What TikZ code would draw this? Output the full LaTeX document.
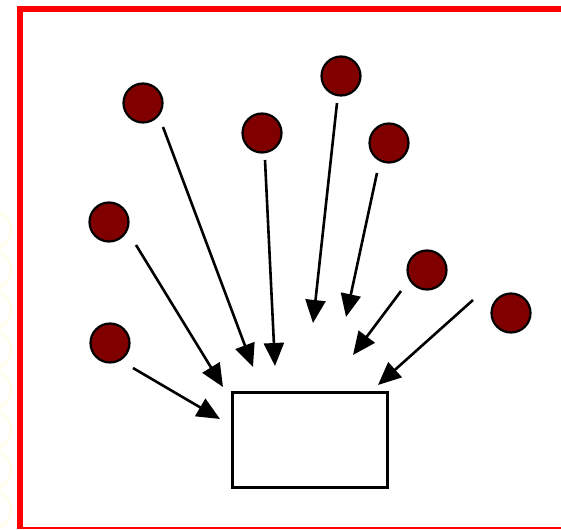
\documentclass[tikz,border=0pt]{standalone}
\usetikzlibrary{arrows.meta}
\definecolor{ball}{RGB}{128,0,0}
\definecolor{frame}{RGB}{255,0,0}
\definecolor{paleyellow}{RGB}{255,254,236}
\tikzset{
  ball/.style={circle, draw=black, line width=2.2pt, fill=ball, minimum size=39pt, inner sep=0pt},
  target/.style={draw=black, line width=2.4pt, fill=white, minimum width=155pt, minimum height=95pt, inner sep=0pt},
  push/.style={draw=black, line width=2.6pt, -{Triangle[length=23pt,width=20pt]}},
}
\begin{document}
\begin{tikzpicture}[x=1pt,y=-1pt]
  \useasboundingbox (0,0) rectangle (561,529);
  % faint ring pattern at the left edge
  \foreach \yy in {230,270,310,350,390,430,470,510}
    \draw[paleyellow, line width=3pt] (-8,\yy) circle (19);
  % red frame (left, top and bottom edges)
  \fill[frame] (17,6) rectangle (561,12);
  \fill[frame] (17,6) rectangle (23,529);
  \fill[frame] (17,527) rectangle (561,529);

  % the box the arrows aim at
  \node[target] (box) at (310,440) {};

  % balls
  \node[ball] (c1) at (143,103) {};
  \node[ball] (c2) at (262,133) {};
  \node[ball] (c3) at (341,76) {};
  \node[ball] (c4) at (389,143) {};
  \node[ball] (c5) at (109,222) {};
  \node[ball] (c6) at (427,270) {};
  \node[ball] (c7) at (511,313) {};
  \node[ball] (c8) at (110,343) {};

  % arrow starts and tips
  \coordinate (s1) at (163,127); \coordinate (t1) at (253,367);
  \coordinate (s2) at (265,160); \coordinate (t2) at (275,366);
  \coordinate (s3) at (337,103); \coordinate (t3) at (313,323);
  \coordinate (s4) at (377,173); \coordinate (t4) at (346,317);
  \coordinate (s5) at (136,245); \coordinate (t5) at (223,387);
  \coordinate (s6) at (401,291); \coordinate (t6) at (353,355);
  \coordinate (s7) at (473,300); \coordinate (t7) at (378,385);
  \coordinate (s8) at (133,368); \coordinate (t8) at (220,419);

  \foreach \i in {1,...,8}
    \draw[push] (s\i) -- (t\i);
\end{tikzpicture}
\end{document}
